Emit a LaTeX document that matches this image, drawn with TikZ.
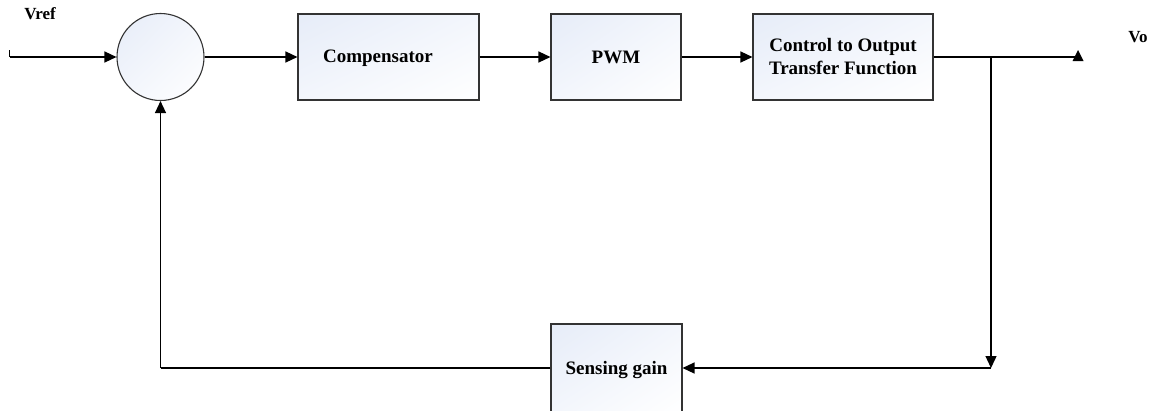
\documentclass[tikz,border=0pt]{standalone}
\usepackage{fontspec}
\setmainfont{Liberation Serif}
\usetikzlibrary{arrows.meta,shadings,calc}
\definecolor{tintA}{RGB}{230,236,248}
\definecolor{tintB}{RGB}{243,246,252}
\tikzset{
  blk/.style={draw=black!80, line width=1.1pt, minimum height=86pt, inner sep=0pt,
    upper left=tintA, upper right=tintB, lower left=tintB, lower right=white,
    font=\fontsize{19}{23}\selectfont\bfseries, align=center},
  sumc/.style={circle, draw=black!80, line width=1.1pt, minimum size=87pt, inner sep=0pt,
    upper left=tintA, upper right=tintB, lower left=tintB, lower right=white},
  txt/.style={font=\fontsize{19}{23}\selectfont\bfseries, inner sep=0pt},
  lbl/.style={font=\fontsize{17}{20}\selectfont\bfseries, inner sep=0pt},
  conn/.style={line width=1.3pt, black},
  arr/.style={conn, -{Triangle[length=12pt,width=11pt]}}
}
\begin{document}
\begin{tikzpicture}[x=1pt,y=-1pt]
\useasboundingbox (0,0) rectangle (1157,410);
\clip (0,0) rectangle (1157,410);
\node[sumc] (sum) at (160.5,57) {};
\node[blk, minimum width=181pt] (comp) at (388.5,57) {};
\node[txt] (comptxt) at (378,58.5) {Compensator};
\node[blk, minimum width=130pt] (pwm) at (616,57) {PWM};
\node[blk, minimum width=180pt] (ctrl) at (843,57) {Control to Output\\Transfer Function};
\node[blk, minimum width=131pt, minimum height=88pt] (sense) at (616.5,368) {};
\node[txt] (sensetxt) at (616.5,369.5) {Sensing gain};
\node[lbl] (vref) at (40,14) {Vref};
\node[lbl] (vo) at (1138,37) {Vo};
\coordinate (in) at (9.5,50);
\coordinate (inb) at (9.5,57);
\coordinate (out) at (1078,57);
\coordinate (br) at (991,57);
\coordinate (brd) at (991,368);
\coordinate (fb) at (160.5,368);
\draw[conn] (in) -- (inb);
\draw[arr] (inb) -- (sum.west);
\draw[arr] (sum.east) -- (comp.west);
\draw[arr] (comp.east) -- (pwm.west);
\draw[arr] (pwm.east) -- (ctrl.west);
\draw[conn] (ctrl.east) -- (out);
\fill[black] ($(out)+(-5.5,4)$) -- ($(out)+(0,-7)$) -- ($(out)+(5.5,4)$) -- cycle;
\draw[arr] (br) -- (brd);
\draw[arr] (brd) -- (sense.east);
\draw[conn] (sense.west) -- (fb);
\draw[arr] (fb) -- (sum.south);
\end{tikzpicture}
\end{document}
